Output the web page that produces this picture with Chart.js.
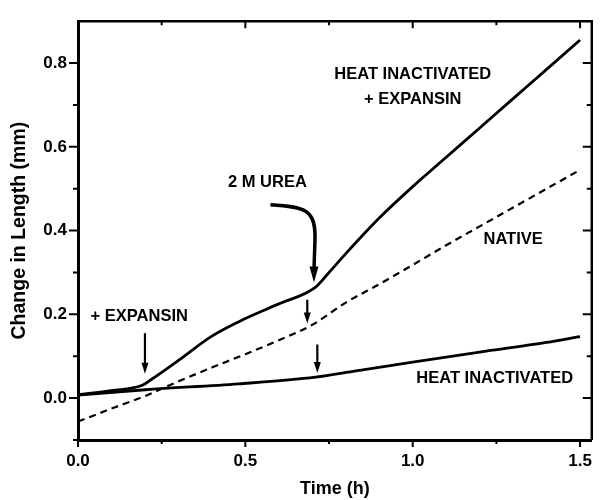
<!DOCTYPE html>
<html>
<head>
<meta charset="utf-8">
<script src="https://cdn.jsdelivr.net/npm/chart.js@4"></script>
<style>
  html, body { margin: 0; padding: 0; background: #fff; }
  #wrap { width: 603px; height: 500px; }
</style>
</head>
<body>
<div id="wrap"><canvas id="growth"></canvas></div>
<script>
// time (h) and change in length (mm)
const expansinTime   = [0, 0.1, 0.19, 0.22, 0.3, 0.4, 0.5, 0.6, 0.71, 0.75, 0.8, 0.9, 1.0, 1.1, 1.2, 1.3, 1.4, 1.5];
const expansinLength = [0.008, 0.018, 0.03, 0.045, 0.09, 0.148, 0.19, 0.225, 0.265, 0.3, 0.345, 0.43, 0.505, 0.575, 0.645, 0.715, 0.785, 0.855];

const nativeTime   = [0, 0.1, 0.2, 0.3, 0.4, 0.5, 0.6, 0.7, 0.8, 0.9, 1.0, 1.1, 1.2, 1.3, 1.4, 1.5];
const nativeLength = [-0.056, -0.025, 0.005, 0.04, 0.073, 0.105, 0.138, 0.175, 0.228, 0.272, 0.318, 0.365, 0.41, 0.455, 0.5, 0.545];

const heatTime   = [0, 0.2, 0.48, 0.71, 0.83, 1.0, 1.2, 1.4, 1.5];
const heatLength = [0.007, 0.02, 0.034, 0.05, 0.065, 0.086, 0.11, 0.133, 0.147];

const xTicks = [0, 0.5, 1.0, 1.5];
const yTicks = [0, 0.2, 0.4, 0.6, 0.8];

// text labels and arrows, in data units
const labels = [
    { text: "HEAT INACTIVATED", x: 1.0, y: 0.772 },
    { text: "+ EXPANSIN", x: 1.0, y: 0.714 },
    { text: "2 M UREA", x: 0.566, y: 0.514 },
    { text: "NATIVE", x: 1.3, y: 0.38 },
    { text: "+ EXPANSIN", x: 0.183, y: 0.194 },
    { text: "HEAT INACTIVATED", x: 1.245, y: 0.048 },
];
const arrows = [
    { x: 0.20, from: 0.155, to: 0.058 },
    { x: 0.685, from: 0.235, to: 0.178 },
    { x: 0.715, from: 0.128, to: 0.06 },
];

function pts(xs, ys) {
    return xs.map((x, i) => ({ x: x, y: ys[i] }));
}

const font = '"Liberation Sans", Arial, sans-serif';

function arrowHead(ctx, x, y, w, h) {
    ctx.beginPath();
    ctx.moveTo(x, y);
    ctx.lineTo(x - w / 2, y - h);
    ctx.lineTo(x + w / 2, y - h);
    ctx.closePath();
    ctx.fill();
}

const extras = {
    id: "extras",
    afterDraw(chart) {
        const ctx = chart.ctx;
        const xs = chart.scales.x, ys = chart.scales.y;
        const a = chart.chartArea;
        ctx.save();
        ctx.strokeStyle = "#000";
        ctx.fillStyle = "#000";

        // top and right frame
        ctx.lineWidth = 2.5;
        ctx.beginPath();
        ctx.moveTo(a.left, a.top);
        ctx.lineTo(a.right, a.top);
        ctx.lineTo(a.right, a.bottom);
        ctx.stroke();

        // ticks: out on bottom/left, in on top/right
        ctx.lineWidth = 2;
        for (let k = 0; k <= 6; k++) {
            const px = xs.getPixelForValue(k * 0.25);
            const len = k % 2 === 0 ? 7 : 4;
            ctx.beginPath();
            ctx.moveTo(px, a.bottom);
            ctx.lineTo(px, a.bottom + len);
            ctx.moveTo(px, a.top);
            ctx.lineTo(px, a.top + len);
            ctx.stroke();
        }
        for (let k = -1; k <= 8; k++) {
            const py = ys.getPixelForValue(k / 10);
            const len = k % 2 === 0 ? 9 : 5;
            ctx.beginPath();
            ctx.moveTo(a.left, py);
            ctx.lineTo(a.left - len, py);
            ctx.moveTo(a.right, py);
            ctx.lineTo(a.right - len, py);
            ctx.stroke();
        }

        // labels
        ctx.font = "bold 16.5px " + font;
        ctx.textAlign = "center";
        ctx.textBaseline = "middle";
        labels.forEach(l => {
            ctx.fillText(l.text, xs.getPixelForValue(l.x), ys.getPixelForValue(l.y));
        });

        // straight arrows
        arrows.forEach(ar => {
            const px = xs.getPixelForValue(ar.x);
            const y1 = ys.getPixelForValue(ar.from);
            const y2 = ys.getPixelForValue(ar.to);
            ctx.lineWidth = 2.2;
            ctx.beginPath();
            ctx.moveTo(px, y1);
            ctx.lineTo(px, y2 - 8);
            ctx.stroke();
            arrowHead(ctx, px, y2, 7, 11);
        });

        // curved urea arrow
        const sx = xs.getPixelForValue(0.575), sy = ys.getPixelForValue(0.462);
        const tx = xs.getPixelForValue(0.705), ty = ys.getPixelForValue(0.276);
        ctx.lineWidth = 3.5;
        ctx.beginPath();
        ctx.moveTo(sx, sy);
        ctx.bezierCurveTo(sx + 35, sy + 2, tx + 2, sy + 5, tx + 1, sy + 35);
        ctx.lineTo(tx, ty - 12);
        ctx.stroke();
        arrowHead(ctx, tx, ty, 9, 16);

        ctx.restore();
    }
};

new Chart(document.getElementById("growth"), {
    type: "scatter",
    data: {
        datasets: [
            {
                label: "Heat inactivated + expansin",
                data: pts(expansinTime, expansinLength),
                showLine: true,
                cubicInterpolationMode: "monotone",
                borderColor: "#000",
                borderWidth: 2.8,
                pointRadius: 0,
            },
            {
                label: "Native",
                data: pts(nativeTime, nativeLength),
                showLine: true,
                cubicInterpolationMode: "monotone",
                borderColor: "#000",
                borderWidth: 2.2,
                borderDash: [7, 5],
                pointRadius: 0,
            },
            {
                label: "Heat inactivated",
                data: pts(heatTime, heatLength),
                showLine: true,
                cubicInterpolationMode: "monotone",
                borderColor: "#000",
                borderWidth: 2.8,
                pointRadius: 0,
            },
        ],
    },
    options: {
        responsive: true,
        maintainAspectRatio: false,
        animation: false,
        layout: { padding: { top: 15, right: 5, left: 0, bottom: 0 } },
        plugins: { legend: { display: false }, tooltip: { enabled: false } },
        scales: {
            x: {
                type: "linear",
                min: 0,
                max: 1.535,
                afterFit: s => { s.height = 60; },
                afterBuildTicks: s => { s.ticks = xTicks.map(v => ({ value: v })); },
                grid: { display: false, drawTicks: false },
                border: { display: true, color: "#000", width: 3 },
                ticks: {
                    padding: 11,
                    color: "#000",
                    font: { family: font, size: 17, weight: "bold" },
                    callback: v => v.toFixed(1),
                },
                title: {
                    display: true,
                    text: "Time (h)",
                    color: "#000",
                    font: { family: font, size: 18, weight: "bold" },
                    padding: { top: 0, bottom: 0 },
                },
            },
            y: {
                type: "linear",
                min: -0.1,
                max: 0.9,
                afterFit: s => { s.width = 78; },
                afterBuildTicks: s => { s.ticks = yTicks.map(v => ({ value: v })); },
                grid: { display: false, drawTicks: false },
                border: { display: true, color: "#000", width: 3 },
                ticks: {
                    padding: 11,
                    color: "#000",
                    font: { family: font, size: 17, weight: "bold" },
                    callback: v => v.toFixed(1),
                },
                title: {
                    display: true,
                    text: "Change in Length (mm)",
                    color: "#000",
                    font: { family: font, size: 19.5, weight: "bold" },
                    padding: { top: 8, bottom: 0 },
                },
            },
        },
    },
    plugins: [extras],
});
</script>
</body>
</html>
